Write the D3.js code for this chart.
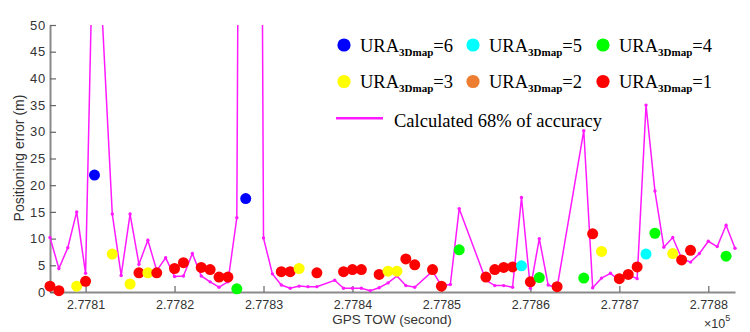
<!DOCTYPE html>
<html><head><meta charset="utf-8">
<script src="https://cdn.jsdelivr.net/npm/d3@7"></script>
<style>body{margin:0;background:#fff}svg{display:block}</style>
</head><body>
<svg id="chart" width="750" height="332"></svg>
<script>
// Calculated 68% accuracy line (GPS TOW, error in m); gaps are epochs without solution
const lineTow = [277806,277807,277808,277809,277810,277811,
  277813,277814,277815,277816,277817,277818,277819,277820,277821,277822,277823,277824,277825,277826,277827,277828,277829,277830,277831,277832,277833,277834,277835,277836,
  277838,277839,277840,277841,277842,277843,277844,277845,277846,277847,
  277849,277850,277851,277852,
  277855,277856,277857,277858,277859,277860,277861,277862,277863,
  277866,277867,277868,277869,277870,277871,277872,277873,277874,277875,277876,277877,277878,277879,277880,277881,277882,277883];
const lineError = [10.2,4.4,8.3,15.0,3.5,80,
  14.6,3.1,14.6,5.2,9.7,4.0,6.4,2.9,3.0,7.2,3.0,1.9,0.9,1.9,13.9,350,360,10.1,3.4,1.3,0.7,1.1,1.0,1.0,
  2.2,0.7,0.7,0.7,0.25,0.8,1.7,3.0,1.2,0.9,
  3.9,1.2,1.4,15.6,
  2.2,1.2,1.2,0.9,17.7,0.7,10.0,1.3,0.8,
  30.2,0.8,2.6,3.5,2.2,3.2,2.5,35.0,18.9,8.4,10.2,6.3,5.6,7.2,9.5,8.5,12.5,8.2];

// Positioning error markers coloured by URA_3Dmap
const markerTow = [277806,277807,277809,277810,277811,277813,277815,277816,277817,277818,
  277820,277821,277823,277824,277825,277826,277827,277828,
  277832,277833,277834,277836,277839,277840,277841,277843,277844,277845,277846,277847,277849,277850,277852,
  277855,277856,277857,277858,277859,277860,277861,277863,
  277866,277867,277868,277870,277871,277872,277873,277874,277876,277877,277878,277882];
const markerError = [1.1,0.25,1.1,2.0,21.9,7.1,1.5,3.6,3.6,3.6,
  4.4,5.5,4.6,4.2,2.8,2.8,0.6,17.5,
  3.8,3.8,4.4,3.6,3.8,4.2,4.2,3.3,3.9,3.9,6.2,5.1,4.2,1.1,7.9,
  2.8,4.2,4.6,4.7,4.9,1.9,2.7,1.0,
  2.6,10.9,7.6,2.5,3.3,4.7,7.1,11.0,7.2,6.0,7.8,6.7];
const markerURA = [1,1,3,1,6,3,3,1,3,1,
  1,1,1,1,1,1,4,6,
  1,1,3,1,1,1,1,1,3,3,1,1,1,1,4,
  1,1,1,1,5,1,4,1,
  4,1,3,1,1,1,5,4,3,1,1,4];

const uraLevels = [6,5,4,3,2,1];
const uraColors = ["#0000ff","#00ffff","#00ff00","#ffff00","#ed7d31","#ff0000"];
const xTicks = [277810,277820,277830,277840,277850,277860,277870,277880];
const yTicks = [0,5,10,15,20,25,30,35,40,45,50];
const lineLabel = "Calculated 68% of accuracy";
const xTitle = "GPS TOW (second)";
const yTitle = "Positioning error (m)";

const svg = d3.select("#chart");
const L = 50, R = 735, T = 25, B = 292;
const x = d3.scaleLinear().domain(d3.extent(lineTow)).range([L, R]);
const y = d3.scaleLinear().domain([0, 50]).range([B, T]);
const color = d3.scaleOrdinal().domain(uraLevels).range(uraColors);
const magenta = "#ff1aff";
const axisGray = "#8a8a8a";
const textGray = "#333";

svg.append("defs").append("clipPath").attr("id", "plotclip")
  .append("rect").attr("x", L - 2).attr("y", T).attr("width", R - L + 4).attr("height", B - T + 2);

// axes
const xAxis = svg.append("g").attr("transform", `translate(0,${B})`)
  .call(d3.axisBottom(x).tickValues(xTicks).tickFormat(d => (d / 1e5).toFixed(4))
    .tickSizeInner(-6).tickSizeOuter(0).tickPadding(8));
const yAxis = svg.append("g").attr("transform", `translate(${L},0)`)
  .call(d3.axisLeft(y).tickValues(yTicks).tickSizeInner(-6).tickSizeOuter(0).tickPadding(4));
[xAxis, yAxis].forEach(g => {
  g.select(".domain").attr("stroke", axisGray).attr("stroke-width", 2);
  g.selectAll(".tick line").attr("stroke", "#666").attr("stroke-width", 1.2);
  g.selectAll(".tick text").attr("fill", textGray)
    .style("font-family", "'Liberation Sans', Arial, sans-serif").style("font-size", "12.5px");
});
yAxis.selectAll(".tick text").style("font-size", "13px").attr("letter-spacing", "0.8px");

// accuracy line
const pts = lineTow.map((t, i) => [t, lineError[i]]);
const plot = svg.append("g").attr("clip-path", "url(#plotclip)");
plot.append("path").datum(pts)
  .attr("fill", "none").attr("stroke", magenta).attr("stroke-width", 1.5)
  .attr("d", d3.line().x(d => x(d[0])).y(d => y(d[1])));
plot.selectAll("circle.dot").data(pts).join("circle").attr("class", "dot")
  .attr("cx", d => x(d[0])).attr("cy", d => y(d[1])).attr("r", 1.7).attr("fill", magenta);

// URA markers
const marks = markerTow.map((t, i) => ({t, e: markerError[i], u: markerURA[i]}));
svg.append("g").selectAll("circle").data(marks).join("circle")
  .attr("cx", d => x(d.t)).attr("cy", d => y(d.e)).attr("r", 5.5)
  .attr("fill", d => color(d.u));

// axis titles
svg.append("text").attr("x", 392).attr("y", 324).attr("text-anchor", "middle")
  .attr("fill", textGray).style("font-family", "'Liberation Sans', Arial, sans-serif")
  .style("font-size", "13.5px").text(xTitle);
svg.append("text").attr("transform", "translate(24,158) rotate(-90)").attr("text-anchor", "middle")
  .attr("fill", textGray).style("font-family", "'Liberation Sans', Arial, sans-serif")
  .style("font-size", "14px").text(yTitle);
const ex = svg.append("text").attr("x", 704).attr("y", 328).attr("fill", textGray)
  .style("font-family", "'Liberation Sans', Arial, sans-serif").style("font-size", "12.5px");
ex.append("tspan").text("×10");
ex.append("tspan").attr("dy", -7).style("font-size", "9px").text("5");

// legend
const colX = [344, 473, 603], textX = [360, 489, 619], rowY = [45, 81.5];
const leg = svg.append("g").style("font-family", "'Liberation Serif', 'Times New Roman', serif");
uraLevels.forEach((u, i) => {
  const c = i % 3, r = Math.floor(i / 3);
  leg.append("circle").attr("cx", colX[c]).attr("cy", rowY[r]).attr("r", 6.6).attr("fill", color(u));
  const t = leg.append("text").attr("x", textX[c]).attr("y", rowY[r] + 6.8)
    .style("font-size", "18.5px").attr("fill", "#000");
  t.append("tspan").text("URA");
  t.append("tspan").attr("dy", 4).style("font-size", "11px").style("font-weight", "bold").text("3Dmap");
  t.append("tspan").attr("dy", -4).text("=" + u);
});
leg.append("line").attr("x1", 336).attr("x2", 383).attr("y1", 118.3).attr("y2", 118.3)
  .attr("stroke", magenta).attr("stroke-width", 2.6);
leg.append("text").attr("x", 394).attr("y", 126.5).style("font-size", "18.5px").attr("fill", "#000")
  .text(lineLabel);
</script>
</body></html>
